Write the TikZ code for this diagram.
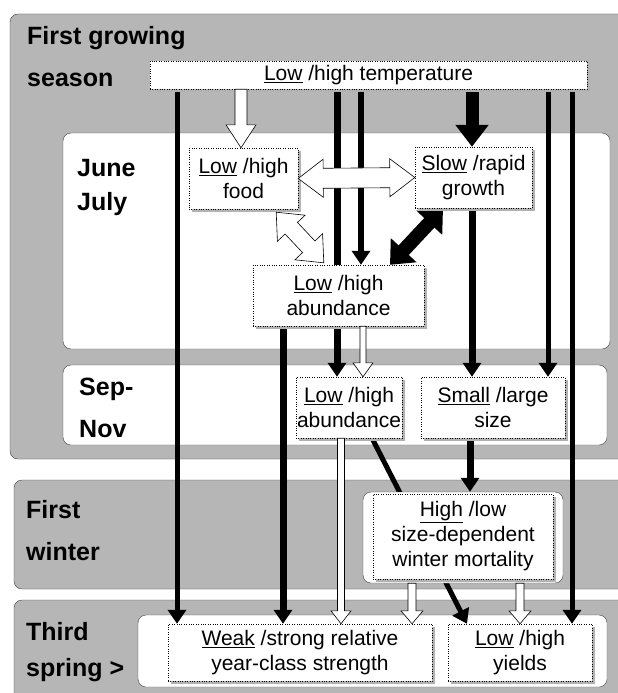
\documentclass[tikz,border=0pt]{standalone}
\usepackage{fontspec}
\setmainfont{Liberation Sans}
\usetikzlibrary{arrows.meta, calc, shadows}
\definecolor{panelgray}{RGB}{182,182,182}
\pgfdeclarelayer{background}
\pgfdeclarelayer{behind}
\pgfsetlayers{background,behind,main}

% white block arrow: from, to, half shaft, half head, head length
\newcommand{\blockarrow}[5]{%
  \path (#1) coordinate (ba-s) (#2) coordinate (ba-e);
  \coordinate (ba-h) at ($(ba-e)!#5!(ba-s)$);
  \filldraw[blockarr] ($(ba-s)!#3!-90:(ba-e)$) -- ($(ba-h)!#3!-90:(ba-e)$)
    -- ($(ba-h)!#4!-90:(ba-e)$) -- (ba-e) -- ($(ba-h)!#4!90:(ba-e)$)
    -- ($(ba-h)!#3!90:(ba-e)$) -- ($(ba-s)!#3!90:(ba-e)$) -- cycle;}
% same with a head at both ends
\newcommand{\dblockarrow}[5]{%
  \path (#1) coordinate (ba-s) (#2) coordinate (ba-e);
  \coordinate (ba-h) at ($(ba-e)!#5!(ba-s)$);
  \coordinate (ba-t) at ($(ba-s)!#5!(ba-e)$);
  \filldraw[blockarr] (ba-s) -- ($(ba-t)!#4!-90:(ba-e)$) -- ($(ba-t)!#3!-90:(ba-e)$)
    -- ($(ba-h)!#3!-90:(ba-e)$) -- ($(ba-h)!#4!-90:(ba-e)$) -- (ba-e)
    -- ($(ba-h)!#4!90:(ba-e)$) -- ($(ba-h)!#3!90:(ba-e)$)
    -- ($(ba-t)!#3!90:(ba-e)$) -- ($(ba-t)!#4!90:(ba-e)$) -- cycle;}

\begin{document}
\begin{tikzpicture}[x=1pt, y=-1pt,
    season/.style={draw=black!75, fill=panelgray, rounded corners=8pt},
    period/.style={draw=black!75, fill=white, rounded corners=8pt},
    stage/.style={anchor=base west, inner sep=0pt, font=\fontsize{25}{25}\selectfont\bfseries},
    factor/.style={draw, dotted, fill=white, align=center, inner sep=1pt,
      font=\fontsize{21}{25}\selectfont,
      drop shadow={shadow xshift=3pt, shadow yshift=-3pt, fill=black!30, opacity=1}},
    link/.style={line width=5pt, -{Triangle[width=18pt, length=14pt]}},
    blockarr/.style={draw=black, fill=white, line width=0.6pt, line join=miter}]
    \useasboundingbox (0,0) rectangle (618,693);

    %% Panels
    \begin{pgfonlayer}{background}
      \fill[white] (0,0) rectangle (618,693);
      \draw[season] (10,14) rectangle (640,459);
      \draw[season] (14,480) rectangle (640,589);
      \draw[season] (14,600) rectangle (640,710);
      \draw[period] (63,133) rectangle (610,349);
      \draw[period] (63,365) rectangle (607,445);
      \draw[period] (138,615) rectangle (607,687);
    \end{pgfonlayer}

    %% Period labels
    \node[stage] (lgrow1) at (27,45) {First growing};
    \node[stage] (lgrow2) at (27,86) {season};
    \node[stage] (ljune) at (77,176) {June};
    \node[stage] (ljuly) at (77,210) {July};
    \node[stage] (lsep) at (79,395) {Sep-};
    \node[stage] (lnov) at (79,437) {Nov};
    \node[stage] (lwin1) at (26,518) {First};
    \node[stage] (lwin2) at (26,560) {winter};
    \node[stage] (lspr1) at (26,640) {Third};
    \node[stage] (lspr2) at (26,676) {spring >};

    %% Factors
    \node[period, minimum width=200pt, minimum height=91pt] (mortbox) at (463,537.5) {};
    \node[factor, minimum width=437pt, minimum height=28pt] (temp) at (368.5,75) {\underline{Low} /high temperature};
    \node[factor, minimum width=109pt, minimum height=61pt] (food) at (243.5,178.5) {\underline{Low} /high\\food};
    \node[factor, minimum width=117pt, minimum height=61pt] (grow) at (473.5,177.5) {\underline{Slow} /rapid\\growth};
    \node[factor, minimum width=171pt, minimum height=61pt] (abjul) at (338.5,295.5) {\underline{Low} /high\\abundance};
    \node[factor, minimum width=106pt, minimum height=61pt] (abnov) at (349,407.5) {\underline{Low} /high\\abundance};
    \node[factor, minimum width=144pt, minimum height=61pt] (size) at (493,407.5) {\underline{Small} /large\\size};
    \node[factor, minimum width=180pt, minimum height=85pt] (mort) at (463,536.5) {\underline{High} /low\\size-dependent\\winter mortality};
    \node[factor, minimum width=264pt, minimum height=57pt] (yclass) at (300,652.5) {\underline{Weak} /strong relative\\year-class strength};
    \node[factor, minimum width=144pt, minimum height=57pt] (yield) at (520,652.5) {\underline{Low} /high\\yields};

    %% Columns of the connectors
    \foreach \name/\x in {c1/177, c2/283, c3/337, c4/361, c5/472, c6/548, c7/572,
        cs/470, cd/372, ce/467, cg/443, ch/390, cf/241, ca/363, cb/341, cm/412, cy/520}
      \coordinate (\name) at (\x,0);

    %% Black links (behind the boxes)
    \begin{pgfonlayer}{behind}
      \draw[link] (temp.south -| c1) -- (yclass.north -| c1);
      \draw[link, line width=7pt] (abjul.south -| c2) -- (yclass.north -| c2);
      \draw[link, line width=7pt] (temp.south -| c3) -- (abnov.north -| c3);
      \draw[link, line width=6pt] (temp.south -| c4) -- (abjul.north -| c4);
      \draw[link, line width=13pt, -{Triangle[width=32pt, length=22pt]}] (temp.south -| c5) -- (grow.north -| c5);
      \draw[link] (temp.south -| c6) -- (size.north -| c6);
      \draw[link] (temp.south -| c7) -- (yield.north -| c7);
      \draw[link, line width=7pt] (grow.south -| c5) -- (size.north -| c5);
      \draw[link, line width=7pt] (size.south -| cs) -- (mortbox.north -| cs);
      \draw[link] (abnov.south -| cd) -- (yield.north -| ce);
      \draw[line width=14pt, {Triangle[width=34pt, length=20pt]}-{Triangle[width=34pt, length=20pt]}]
        (grow.south -| cg) -- (abjul.north -| ch);
    \end{pgfonlayer}

    %% White links
    \blockarrow{temp.south -| cf}{food.north -| cf}{6pt}{15pt}{23pt}
    \dblockarrow{food.east}{grow.west}{10pt}{19pt}{25pt}
    \dblockarrow{$(food.south east)+(-22,3)$}{$(abjul.north west)+(71,-2)$}{8.5pt}{19pt}{22pt}
    \blockarrow{abjul.south -| ca}{abnov.north -| ca}{3pt}{10pt}{14pt}
    \blockarrow{abnov.south -| cb}{yclass.north -| cb}{3.5pt}{10pt}{13pt}
    \blockarrow{mortbox.south -| cm}{yclass.north -| cm}{4pt}{11pt}{13pt}
    \blockarrow{mortbox.south -| cy}{yield.north -| cy}{4pt}{11pt}{13pt}
  \end{tikzpicture}
\end{document}
